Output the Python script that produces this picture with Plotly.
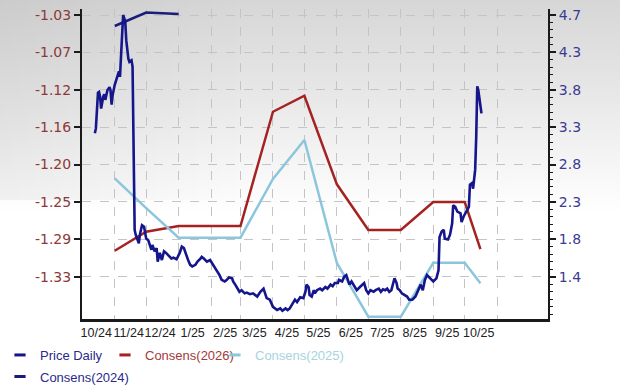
import urllib.parse
import plotly.graph_objects as go

# ---------------- data ----------------
price_dates = [
    "2024-10-13", "2024-10-14", "2024-10-16", "2024-10-17", "2024-10-18", "2024-10-19", "2024-10-21",
    "2024-10-22", "2024-10-23", "2024-10-25", "2024-10-27", "2024-10-28", "2024-10-29", "2024-10-30",
    "2024-11-01", "2024-11-03", "2024-11-05", "2024-11-06", "2024-11-07", "2024-11-08", "2024-11-09",
    "2024-11-11", "2024-11-12", "2024-11-14", "2024-11-15", "2024-11-17", "2024-11-18", "2024-11-20",
    "2024-11-21", "2024-11-24", "2024-11-25", "2024-11-27", "2024-11-29",
    "2024-12-01", "2024-12-03", "2024-12-06", "2024-12-07", "2024-12-09", "2024-12-11", "2024-12-12",
    "2024-12-14", "2024-12-16", "2024-12-18", "2024-12-20", "2024-12-22", "2024-12-25", "2024-12-27",
    "2024-12-30",
    "2025-01-02", "2025-01-04", "2025-01-06", "2025-01-08", "2025-01-10", "2025-01-12", "2025-01-14",
    "2025-01-17", "2025-01-19", "2025-01-22", "2025-01-23", "2025-01-25", "2025-01-28", "2025-01-31",
    "2025-02-02", "2025-02-05", "2025-02-07", "2025-02-09", "2025-02-11", "2025-02-14", "2025-02-16",
    "2025-02-18", "2025-02-21", "2025-02-22", "2025-02-24", "2025-02-26", "2025-02-28",
    "2025-03-02", "2025-03-05", "2025-03-07", "2025-03-10", "2025-03-13", "2025-03-17", "2025-03-20",
    "2025-03-23", "2025-03-26", "2025-03-29",
    "2025-04-01", "2025-04-03", "2025-04-05", "2025-04-08", "2025-04-10", "2025-04-13", "2025-04-15",
    "2025-04-17", "2025-04-20", "2025-04-22", "2025-04-24", "2025-04-27", "2025-04-30",
    "2025-05-02", "2025-05-03", "2025-05-05", "2025-05-06", "2025-05-08", "2025-05-10", "2025-05-11",
    "2025-05-13", "2025-05-16", "2025-05-18", "2025-05-21", "2025-05-23", "2025-05-26", "2025-05-28",
    "2025-05-30",
    "2025-06-02", "2025-06-03", "2025-06-06", "2025-06-08", "2025-06-10", "2025-06-11", "2025-06-13",
    "2025-06-15", "2025-06-18", "2025-06-20", "2025-06-23", "2025-06-25", "2025-06-27", "2025-06-29",
    "2025-07-01", "2025-07-03", "2025-07-06", "2025-07-08", "2025-07-11", "2025-07-13", "2025-07-15",
    "2025-07-17", "2025-07-19", "2025-07-21", "2025-07-23", "2025-07-26", "2025-07-28", "2025-07-29",
    "2025-07-31",
    "2025-08-02", "2025-08-04", "2025-08-07", "2025-08-09", "2025-08-12", "2025-08-15", "2025-08-18",
    "2025-08-20", "2025-08-22", "2025-08-24", "2025-08-26", "2025-08-29",
    "2025-09-01", "2025-09-04", "2025-09-06", "2025-09-07", "2025-09-09", "2025-09-11", "2025-09-12",
    "2025-09-15", "2025-09-17", "2025-09-19", "2025-09-20", "2025-09-22", "2025-09-24", "2025-09-27",
    "2025-09-28", "2025-09-30",
    "2025-10-03", "2025-10-05", "2025-10-06", "2025-10-08", "2025-10-09", "2025-10-11", "2025-10-12",
    "2025-10-13", "2025-10-14", "2025-10-16", "2025-10-17",
]
price_values = [
    3.21, 3.27, 3.72, 3.73, 3.67, 3.52, 3.67, 3.70, 3.63, 3.75, 3.79, 3.75, 3.57, 3.69,
    3.82, 3.90, 3.99, 3.92, 4.17, 4.51, 4.70, 4.62, 4.38, 4.15, 4.11, 4.13, 4.05, 1.99, 1.93, 1.82,
    1.93, 2.05, 2.03,
    1.88, 1.86, 1.74, 1.80, 1.72, 1.76, 1.59, 1.70, 1.61, 1.72, 1.70, 1.67, 1.63, 1.64, 1.62,
    1.70, 1.78, 1.76, 1.67, 1.61, 1.55, 1.53, 1.55, 1.59, 1.63, 1.65, 1.63, 1.59, 1.61,
    1.57, 1.51, 1.46, 1.42, 1.36, 1.34, 1.36, 1.39, 1.38, 1.34, 1.30, 1.25, 1.21,
    1.23, 1.19, 1.20, 1.18, 1.19, 1.15, 1.21, 1.25, 1.13, 1.11,
    1.02, 1.00, 0.98, 1.00, 0.97, 1.00, 0.98, 1.00, 1.06, 1.11, 1.08, 1.14, 1.13,
    1.21, 1.30, 1.27, 1.17, 1.15, 1.23, 1.19, 1.23, 1.25, 1.23, 1.27, 1.25, 1.30, 1.28, 1.32,
    1.32, 1.36, 1.34, 1.40, 1.42, 1.37, 1.30, 1.34, 1.27, 1.23, 1.27, 1.30, 1.32, 1.23,
    1.19, 1.23, 1.21, 1.23, 1.25, 1.21, 1.24, 1.23, 1.25, 1.21, 1.23, 1.38, 1.32, 1.25, 1.23,
    1.19, 1.17, 1.15, 1.11, 1.11, 1.15, 1.23, 1.30, 1.23, 1.36, 1.42, 1.38,
    1.34, 1.38, 1.48, 1.90, 1.97, 1.99, 1.88, 1.87, 1.93, 2.07, 2.30, 2.28, 2.22, 2.20, 2.09, 2.16,
    2.24, 2.28, 2.56, 2.58, 2.51, 2.75, 3.17, 3.80, 3.75, 3.59, 3.46,
]

cons_dates = [
    "2024-11-01", "2024-12-01", "2025-01-01", "2025-02-01", "2025-03-01", "2025-04-01", "2025-05-01",
    "2025-06-01", "2025-07-01", "2025-08-01", "2025-09-01", "2025-10-01", "2025-10-16",
]
cons_2026 = [-1.3002, -1.2784, -1.2719, -1.2719, -1.2719, -1.1409, -1.1225,
             -1.2241, -1.2765, -1.2765, -1.2444, -1.2444, -1.2983]
cons_2025 = [-1.2172, -1.2513, -1.2853, -1.2853, -1.2853, -1.2180, -1.1733,
             -1.3143, -1.3759, -1.3759, -1.3140, -1.3140, -1.3376]
cons_2024_dates = ["2024-11-01", "2024-12-01", "2025-01-01"]
cons_2024 = [-1.0426, -1.0271, -1.0289]

x_tick_dates = [
    "2024-10-01", "2024-11-01", "2024-12-01", "2025-01-01", "2025-02-01", "2025-03-01", "2025-04-01",
    "2025-05-01", "2025-06-01", "2025-07-01", "2025-08-01", "2025-09-01", "2025-10-01", "2025-11-01",
]
x_tick_labels = ["10/24", "11/24", "12/24", "1/25", "2/25", "3/25", "4/25",
                 "5/25", "6/25", "7/25", "8/25", "9/25", "10/25", ""]
left_tick_values = [-1.03, -1.0729, -1.1157, -1.1586, -1.2014, -1.2443, -1.2871, -1.33]
left_tick_labels = ["-1.03", "-1.07", "-1.12", "-1.16", "-1.20", "-1.25", "-1.29", "-1.33"]
right_tick_values = [1.4, 1.8714, 2.3429, 2.8143, 3.2857, 3.7571, 4.2286, 4.7]
right_tick_labels = ["1.4", "1.8", "2.3", "2.8", "3.3", "3.8", "4.3", "4.7"]

# ---------------- style ----------------
W, H = 620, 388
ML, MR, MT, MB = 82, 72, 9, 69
PW, PH = W - ML - MR, H - MT - MB

NAVY = "#15158c"
NAVY2 = "#1c1c7a"
RED = "#a52222"
LIGHT = "#8cc6dc"
GRID = "#c4c4c4"
AXIS = "#1a1a1a"

fig = go.Figure()

fig.add_trace(go.Scatter(x=cons_dates, y=cons_2026, mode="lines", name="Consens(2026)",
                         line=dict(color=RED, width=2.5), showlegend=False, yaxis="y"))
fig.add_trace(go.Scatter(x=cons_dates, y=cons_2025, mode="lines", name="Consens(2025)",
                         line=dict(color=LIGHT, width=2.5), showlegend=False, yaxis="y"))
fig.add_trace(go.Scatter(x=cons_2024_dates, y=cons_2024, mode="lines", name="Consens(2024)",
                         line=dict(color=NAVY2, width=2.5), showlegend=False, yaxis="y"))
fig.add_trace(go.Scatter(x=price_dates, y=price_values, mode="lines", name="Price Daily",
                         line=dict(color=NAVY, width=2.6), showlegend=False, yaxis="y2"))

# legend entries (short dash symbols like the original)
legend_items = [
    ("Price Daily", NAVY, "legend"),
    ("Consens(2026)", RED, "legend2"),
    ("Consens(2025)", LIGHT, "legend3"),
    ("Consens(2024)", NAVY2, "legend4"),
]
for name, col, lg in legend_items:
    fig.add_trace(go.Scatter(x=[None], y=[None], mode="markers", name=name, legend=lg,
                             marker=dict(symbol="line-ew", size=8, color=col,
                                         line=dict(color=col, width=3)),
                             showlegend=True, yaxis="y"))

def legend_cfg(left_px, yc, color):
    return dict(xref="container", yref="container", x=left_px / W, y=1 - yc / H,
                xanchor="left", yanchor="middle", orientation="h",
                bgcolor="rgba(0,0,0,0)", borderwidth=0,
                font=dict(family="Liberation Sans, Arial, sans-serif", size=13, color=color))

# background gradient
svg = ("<svg xmlns='http://www.w3.org/2000/svg' width='620' height='388' preserveAspectRatio='none'>"
       "<defs><linearGradient id='g' x1='0' y1='0' x2='0' y2='1'>"
       "<stop offset='0' stop-color='#d6d6d6'/><stop offset='0.25' stop-color='#e8e8e8'/>"
       "<stop offset='0.55' stop-color='#ffffff'/><stop offset='1' stop-color='#ffffff'/>"
       "</linearGradient>"
       "<linearGradient id='h' x1='0' y1='0' x2='1' y2='0'>"
       "<stop offset='0' stop-color='#000' stop-opacity='0.05'/>"
       "<stop offset='0.4' stop-color='#000' stop-opacity='0'/></linearGradient></defs>"
       "<rect width='620' height='388' fill='url(#g)'/>"
       "<rect width='620' height='200' fill='url(#h)'/></svg>")
src = "data:image/svg+xml;charset=utf-8," + urllib.parse.quote(svg)

fig.update_layout(
    width=W, height=H,
    margin=dict(l=ML, r=MR, t=MT, b=MB, autoexpand=False),
    paper_bgcolor="white",
    plot_bgcolor="rgba(0,0,0,0)",
    images=[dict(source=src, xref="paper", yref="paper", x=-ML / PW, y=1 + MT / PH,
                 sizex=W / PW, sizey=H / PH, sizing="stretch", layer="below",
                 xanchor="left", yanchor="top")],
    legend=legend_cfg(0, 355, "#2a2a8c"),
    legend2=legend_cfg(105, 355, "#a33a3a"),
    legend3=legend_cfg(215, 355, "#a6d4e0"),
    legend4=legend_cfg(0, 376.5, "#2a2a8c"),
    xaxis=dict(
        type="date", range=["2024-09-30 18:00", "2025-12-19 12:00"],
        tickmode="array", tickvals=x_tick_dates, ticktext=x_tick_labels,
        tickangle=0,
        showgrid=True, gridcolor=GRID, griddash="dash", gridwidth=1,
        showline=True, linecolor=AXIS, linewidth=3, ticks="",
        ticklabelshift=14,
        tickfont=dict(family="Liberation Sans, Arial, sans-serif", size=12.5, color="#222222"),
        zeroline=False,
    ),
    yaxis=dict(
        range=[-1.3785, -1.0231], tickmode="array",
        tickvals=left_tick_values, ticktext=left_tick_labels,
        showgrid=True, gridcolor=GRID, griddash="dash", gridwidth=1,
        showline=True, linecolor=AXIS, linewidth=2,
        ticks="outside", ticklen=6, tickwidth=1.5, tickcolor=AXIS,
        tickfont=dict(family="DejaVu Sans", size=14, color="#8e3838"),
        zeroline=False,
    ),
    yaxis2=dict(
        overlaying="y", side="right", anchor="x",
        range=[0.8666, 4.7757], tickmode="array",
        tickvals=right_tick_values, ticktext=right_tick_labels,
        showgrid=False, showline=True, linecolor=AXIS, linewidth=2,
        ticks="outside", ticklen=6, tickwidth=1.5, tickcolor=AXIS,
        minor=dict(tickmode="linear", tick0=1.4, dtick=3.3 / 35, ticks="outside",
                   ticklen=3, tickwidth=1, tickcolor=AXIS),
        tickfont=dict(family="DejaVu Sans", size=14, color="#3a3a94"),
        zeroline=False,
    ),
)

fig.write_html("out.html", config={"displayModeBar": False},
               post_script="document.body.style.margin='0px';")
